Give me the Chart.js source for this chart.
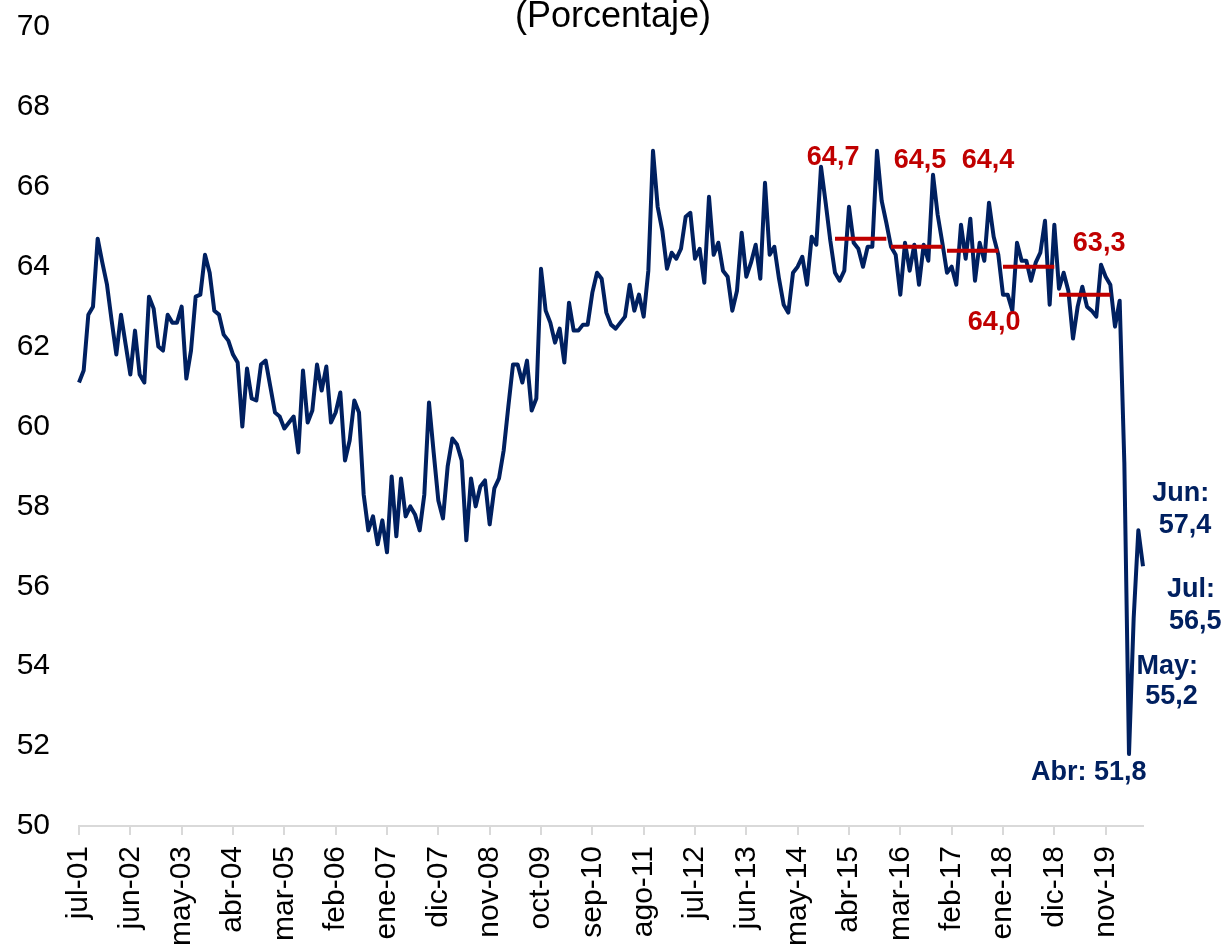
<!DOCTYPE html>
<html><head><meta charset="utf-8">
<script src="https://cdn.jsdelivr.net/npm/chart.js@4.4.1/dist/chart.umd.min.js"></script>
<style>html,body{margin:0;padding:0;background:#fff;} canvas{display:block;}</style>
</head><body>
<canvas id="c" width="1226" height="950"></canvas>
<script>
// ---- data ----
const monthNames = ['ene','feb','mar','abr','may','jun','jul','ago','sep','oct','nov','dic'];
const startYear = 2001;
const startMonthIndex = 6; // jul
const tgp = [
 61.1, 61.4, 62.8, 63.0, 64.7, 64.1, 63.55, 62.65, 61.8, 62.8, 62.05, 61.3,
 62.4, 61.3, 61.1, 63.25, 62.95, 62.0, 61.9, 62.8, 62.6, 62.6, 63.0, 61.2,
 61.9, 63.25, 63.3, 64.3, 63.85, 62.9, 62.8, 62.3, 62.15, 61.8, 61.6, 60.0,
 61.45, 60.7, 60.65, 61.55, 61.65, 61.0, 60.35, 60.25, 59.95, 60.1, 60.25, 59.35,
 61.4, 60.1, 60.4, 61.55, 60.9, 61.5, 60.1, 60.35, 60.85, 59.15, 59.65, 60.65,
 60.35, 58.3, 57.4, 57.75, 57.05, 57.65, 56.85, 58.75, 57.25, 58.7, 57.75, 58.0,
 57.8, 57.4, 58.3, 60.6, 59.35, 58.15, 57.7, 59.0, 59.7, 59.55, 59.15, 57.15,
 58.7, 58.0, 58.5, 58.65, 57.55, 58.45, 58.7, 59.4, 60.5, 61.55, 61.55, 61.1,
 61.65, 60.4, 60.7, 63.95, 62.9, 62.6, 62.1, 62.45, 61.6, 63.1, 62.4, 62.4,
 62.55, 62.55, 63.35, 63.85, 63.7, 62.85, 62.55, 62.45, 62.6, 62.75, 63.55, 62.9,
 63.3, 62.75, 63.9, 66.9, 65.5, 64.9, 63.95, 64.35, 64.2, 64.45, 65.25, 65.35,
 64.2, 64.45, 63.6, 65.75, 64.3, 64.6, 63.9, 63.75, 62.9, 63.4, 64.85, 63.75,
 64.1, 64.55, 63.7, 66.1, 64.3, 64.5, 63.7, 63.05, 62.85, 63.85, 64.0, 64.25,
 63.55, 64.75, 64.55, 66.5, 65.6, 64.65, 63.85, 63.65, 63.9, 65.5, 64.6, 64.45,
 64.0, 64.5, 64.5, 66.9, 65.65, 65.1, 64.5, 64.3, 63.3, 64.6, 63.9, 64.55,
 63.55, 64.55, 64.15, 66.3, 65.3, 64.6, 63.85, 64.0, 63.55, 65.05, 64.2, 65.2,
 63.65, 64.6, 64.15, 65.6, 64.75, 64.3, 63.3, 63.3, 62.9, 64.6, 64.15, 64.15,
 63.65, 64.1, 64.35, 65.15, 63.05, 65.05, 63.45, 63.85, 63.4, 62.2, 63.0, 63.5,
 63.0, 62.9, 62.75, 64.05, 63.75, 63.55, 62.5, 63.15, 59.1, 51.8, 55.2, 57.4,
 56.5
];
const tickEvery = 11;
const yTickMin = 50, yTickMax = 70, yTickStep = 2;
const avgYears = [2015, 2016, 2017, 2018, 2019];
const avgValues = [64.7, 64.5, 64.4, 64.0, 63.3];
const avgTexts = ['64,7', '64,5', '64,4', '64,0', '63,3'];
// label anchors in data coordinates (category index, value)
const avgTextIdx = [161.6, 180.2, 194.8, 196.1, 218.6];
const avgTextVal = [66.72, 66.65, 66.65, 62.59, 64.57];
const lastTexts = ['Jun:', '57,4', 'Jul:', '56,5', 'May:', '55,2', 'Abr: 51,8'];
const lastTextIdx = [236.1, 237.0, 238.3, 239.2, 233.2, 234.1, 216.4];
const lastTextVal = [58.31, 57.53, 55.93, 55.13, 54.0, 53.23, 51.35];
const titleText = '(Porcentaje)';

// ---- build ----
const categories = tgp.map((_, i) => {
  const m = (startMonthIndex + i) % 12;
  const yr = startYear + Math.floor((startMonthIndex + i) / 12);
  return monthNames[m] + '-' + String(yr % 100).padStart(2, '0');
});
const yearOf = i => startYear + Math.floor((startMonthIndex + i) / 12);

const NAVY = '#002060', RED = '#C00000';
const FONT = '"Liberation Sans", Arial, Helvetica, sans-serif';
Chart.defaults.font.family = FONT;

const datasets = [{
  data: tgp, borderColor: NAVY, borderWidth: 4, pointRadius: 0, tension: 0, fill: false, order: 1,
  borderJoinStyle: 'round'
}];
avgYears.forEach((yr, k) => {
  datasets.push({
    data: categories.map((_, i) => yearOf(i) === yr ? avgValues[k] : null),
    borderColor: RED, borderWidth: 4, pointRadius: 0, spanGaps: false, fill: false, order: 0
  });
});

const textPlugin = {
  id: 'texts',
  afterDatasetsDraw(chart) {
    const { ctx, scales: { x, y } } = chart;
    ctx.save();
    ctx.textAlign = 'center';
    ctx.textBaseline = 'middle';
    ctx.font = 'bold 27px ' + FONT;
    ctx.fillStyle = RED;
    avgTexts.forEach((t, k) => ctx.fillText(t, x.getPixelForValue(avgTextIdx[k]), y.getPixelForValue(avgTextVal[k])));
    ctx.fillStyle = NAVY;
    lastTexts.forEach((t, k) => ctx.fillText(t, x.getPixelForValue(lastTextIdx[k]), y.getPixelForValue(lastTextVal[k])));
    ctx.font = '36px ' + FONT;
    ctx.fillStyle = '#000';
    ctx.textBaseline = 'alphabetic';
    ctx.fillText(titleText, chart.width / 2, 27);
    ctx.restore();
  }
};

new Chart(document.getElementById('c'), {
  type: 'line',
  data: { labels: categories, datasets },
  options: {
    responsive: false,
    animation: false,
    layout: { padding: { left: 17, right: 83, top: 27, bottom: 0 } },
    plugins: { legend: { display: false }, tooltip: { enabled: false }, title: { display: false } },
    scales: {
      x: {
        type: 'category', offset: false,
        grid: { display: true, drawOnChartArea: false, drawTicks: true, tickLength: 9, color: '#d9d9d9', lineWidth: 2 },
        border: { display: true, color: '#d9d9d9', width: 2 },
        ticks: {
          autoSkip: false, maxRotation: 90, minRotation: 90, padding: 11, color: '#000',
          font: { size: 30 },
          callback: (v, i) => (i % tickEvery === 0 ? categories[i] : null)
        },
        afterFit: s => { s.height = 124; }
      },
      y: {
        min: yTickMin, max: yTickMax,
        ticks: { stepSize: yTickStep, color: '#000', font: { size: 30 }, padding: 0 },
        grid: { display: false, drawTicks: true, tickLength: 29 },
        border: { display: false },
        afterFit: s => { s.width = 62; }
      }
    }
  },
  plugins: [textPlugin]
});
</script>
</body></html>
